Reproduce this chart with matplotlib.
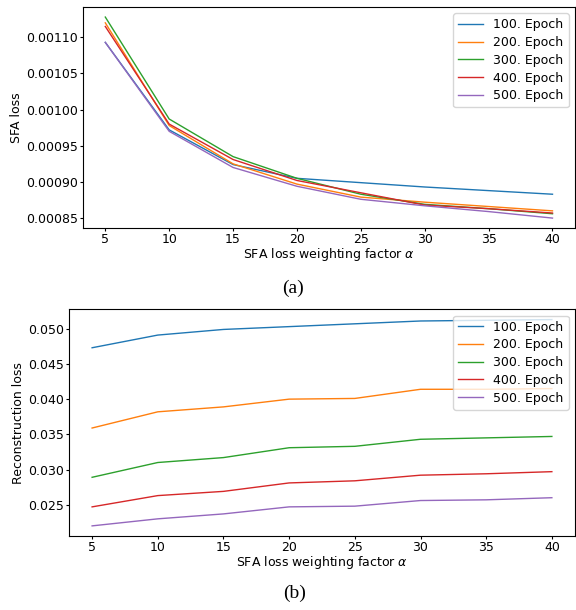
#!/usr/bin/env python3
"""SFA loss and reconstruction loss vs. SFA loss weighting factor."""

import matplotlib
matplotlib.use('Agg')
import matplotlib.pyplot as plt

# =============================================================================
# Data
# =============================================================================
alpha = [5, 10, 15, 20, 25, 30, 35, 40]
epochs = ['100. Epoch', '200. Epoch', '300. Epoch', '400. Epoch', '500. Epoch']

sfa_100 = [0.001093, 0.000972, 0.000924, 0.000905, 0.000899, 0.000893, 0.000888, 0.000883]
sfa_200 = [0.001120, 0.000978, 0.000925, 0.000897, 0.000879, 0.000872, 0.000866, 0.000860]
sfa_300 = [0.001128, 0.000987, 0.000935, 0.000905, 0.000883, 0.000869, 0.000863, 0.000856]
sfa_400 = [0.001115, 0.000980, 0.000931, 0.000902, 0.000885, 0.000868, 0.000863, 0.000857]
sfa_500 = [0.001093, 0.000970, 0.000920, 0.000894, 0.000876, 0.000867, 0.000859, 0.000850]

rec_100 = [0.0473, 0.0491, 0.0499, 0.0503, 0.0507, 0.0511, 0.0512, 0.0513]
rec_200 = [0.0359, 0.0382, 0.0389, 0.0400, 0.0401, 0.0414, 0.0414, 0.0415]
rec_300 = [0.0289, 0.0310, 0.0317, 0.0331, 0.0333, 0.0343, 0.0345, 0.0347]
rec_400 = [0.0247, 0.0263, 0.0269, 0.0281, 0.0284, 0.0292, 0.0294, 0.0297]
rec_500 = [0.0220, 0.0230, 0.0237, 0.0247, 0.0248, 0.0256, 0.0257, 0.0260]

sfa_all = [sfa_100, sfa_200, sfa_300, sfa_400, sfa_500]
rec_all = [rec_100, rec_200, rec_300, rec_400, rec_500]

# =============================================================================
# Plot settings
# =============================================================================
FONTSIZE = 9
plt.rcParams.update({
    'font.size': FONTSIZE,
    'axes.labelsize': FONTSIZE,
    'xtick.labelsize': FONTSIZE,
    'ytick.labelsize': FONTSIZE,
    'legend.fontsize': FONTSIZE,
    'xtick.major.size': 2.0,
    'ytick.major.size': 2.0,
    'xtick.major.pad': 1.5,
    'ytick.major.pad': 1.5,
    'legend.labelspacing': 0.38,
})

fig = plt.figure(figsize=(5.76, 6.10), dpi=100)
ax_a = fig.add_axes([0.144, 0.626, 0.854, 0.3625])
ax_b = fig.add_axes([0.120, 0.121, 0.878, 0.372])

for series, label in zip(sfa_all, epochs):
    ax_a.plot(alpha, series, lw=1.0, label=label)
ax_a.set_ylabel('SFA loss', labelpad=2)
ax_a.set_xlabel(r'SFA loss weighting factor $\alpha$', labelpad=0)
ax_a.legend(loc='upper right')

for series, label in zip(rec_all, epochs):
    ax_b.plot(alpha, series, lw=1.0, label=label)
ax_b.set_ylabel('Reconstruction loss', labelpad=2)
ax_b.set_xlabel(r'SFA loss weighting factor $\alpha$', labelpad=0)
ax_b.legend(loc='upper right')

# Sub-figure captions
fig.text(0.509, 0.527, '(a)', family='Liberation Serif', fontsize=14,
         ha='center', va='center')
fig.text(0.512, 0.028, '(b)', family='Liberation Serif', fontsize=14,
         ha='center', va='center')

fig.savefig('out.png', dpi=100)
